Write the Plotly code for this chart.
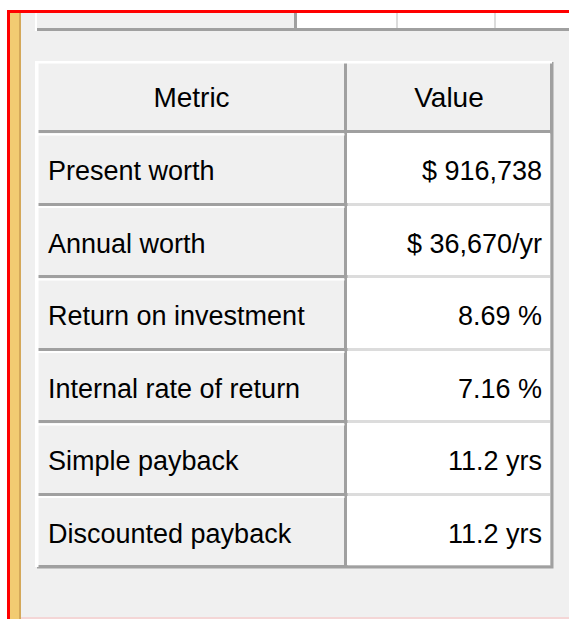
import plotly.graph_objects as go

# table contents
headers = ["Metric", "Value"]
metrics = [
    "Present worth",
    "Annual worth",
    "Return on investment",
    "Internal rate of return",
    "Simple payback",
    "Discounted payback",
]
values = [
    "$ 916,738",
    "$ 36,670/yr",
    "8.69 %",
    "7.16 %",
    "11.2 yrs",
    "11.2 yrs",
]

W, H = 569, 619
FONT = "Liberation Sans, Arial, sans-serif"
colors = {
    'bg': '#f0f0f0',
    'white': '#ffffff',
    'dark_line': '#a0a0a0',
    'light_line': '#dcdcdc',
    'red': '#ff0000',
    'tan': '#f2cb72',
    'tan_edge': '#d4a85a',
    'text': '#000000',
}

# table geometry, in page pixels (axes are set up 1:1 with the page)
col_widths = [309, 206]
tx0 = 37
ty0 = 62
head_h = 70
row_h = 72.5
gap = 3

x_edges = [tx0, tx0 + col_widths[0], tx0 + sum(col_widths)]
y_edges = [ty0, ty0 + head_h] + [ty0 + head_h + row_h * (i + 1) for i in range(len(metrics))]
tx1, ty1 = x_edges[-1], y_edges[-1]

# 0 = grey face, 1 = white face
z = [[0, 0]] + [[0, 1] for _ in metrics]

fig = go.Figure()

fig.add_trace(go.Heatmap(
    x=x_edges,
    y=y_edges,
    z=z,
    zmin=0, zmax=1,
    colorscale=[[0, colors['bg']], [1, colors['white']]],
    showscale=False,
    xgap=gap, ygap=gap,
    hoverinfo='skip',
))

# header labels, centred in each column
fig.add_trace(go.Scatter(
    x=[(x_edges[i] + x_edges[i + 1]) / 2 for i in range(2)],
    y=[(y_edges[0] + y_edges[1]) / 2 + 3] * 2,
    text=headers,
    mode='text',
    textposition='middle center',
    textfont=dict(family=FONT, size=28, color=colors['text']),
    hoverinfo='skip',
))

row_mid = [(y_edges[i + 1] + y_edges[i + 2]) / 2 + 5 for i in range(len(metrics))]

fig.add_trace(go.Scatter(
    x=[x_edges[0] + 11] * len(metrics),
    y=row_mid,
    text=metrics,
    mode='text',
    textposition='middle right',
    textfont=dict(family=FONT, size=27, color=colors['text']),
    hoverinfo='skip',
))

fig.add_trace(go.Scatter(
    x=[x_edges[2] - 10] * len(values),
    y=row_mid,
    text=values,
    mode='text',
    textposition='middle left',
    textfont=dict(family=FONT, size=27, color=colors['text']),
    hoverinfo='skip',
))


def rect(x0, x1, y0, y1, color, layer='above'):
    return dict(type='rect', xref='x', yref='y', x0=x0, x1=x1, y0=y0, y1=y1,
                fillcolor=color, line_width=0, layer=layer)


shapes = [
    # borders seen through the heatmap gaps
    rect(tx0, tx1 + gap / 2, ty0, ty1 + gap / 2, colors['dark_line'], 'below'),
    rect(x_edges[1] + gap / 2, tx1 - gap / 2, y_edges[1] + gap / 2, ty1 - gap / 2,
         colors['light_line'], 'below'),
    # white highlight on top and left of the table
    rect(tx0 - 2, tx1, ty0 - 1, ty0 + 1.5, colors['white']),
    rect(tx0 - 2, tx0 + 1.5, ty0 - 1, ty1, colors['white']),
]
# raised look: thin white line under each grey separator in the metric column
for ye in y_edges[1:-1]:
    shapes.append(rect(tx0, x_edges[1] - gap / 2, ye + gap / 2, ye + gap / 2 + 2,
                       colors['white']))

shapes += [
    # window frame: white outside, red edge, tan strip
    rect(0, W, 0, 10, colors['white']),
    rect(0, 7, 0, H, colors['white']),
    rect(7, W, 10, 13, colors['red']),
    rect(7, 10, 10, H, colors['red']),
    rect(10, 19, 13, H, colors['tan']),
    rect(19, 21, 13, H, colors['tan_edge']),
    # bottom of the table above, cut off by the frame
    rect(37, 294, 13, 28, colors['bg']),
    rect(297, W, 13, 28, colors['white']),
    rect(396, 398, 13, 28, colors['light_line']),
    rect(494, 496, 13, 28, colors['light_line']),
    rect(294, 297, 13, 31, colors['dark_line']),
    rect(37, W, 28, 31, colors['dark_line']),
    rect(35, 37, 13, 31, colors['white']),
    # faint edge at the bottom of the window
    rect(21, W, H - 2, H, '#f4d6d6'),
]

fig.update_layout(
    width=W,
    height=H,
    margin=dict(l=0, r=0, t=0, b=0),
    paper_bgcolor=colors['bg'],
    plot_bgcolor=colors['bg'],
    shapes=shapes,
    showlegend=False,
    xaxis=dict(range=[0, W], visible=False, fixedrange=True),
    yaxis=dict(range=[H, 0], visible=False, fixedrange=True),
)

fig.write_html("out.html", post_script="document.body.style.margin='0';",
               config={'displayModeBar': False})
